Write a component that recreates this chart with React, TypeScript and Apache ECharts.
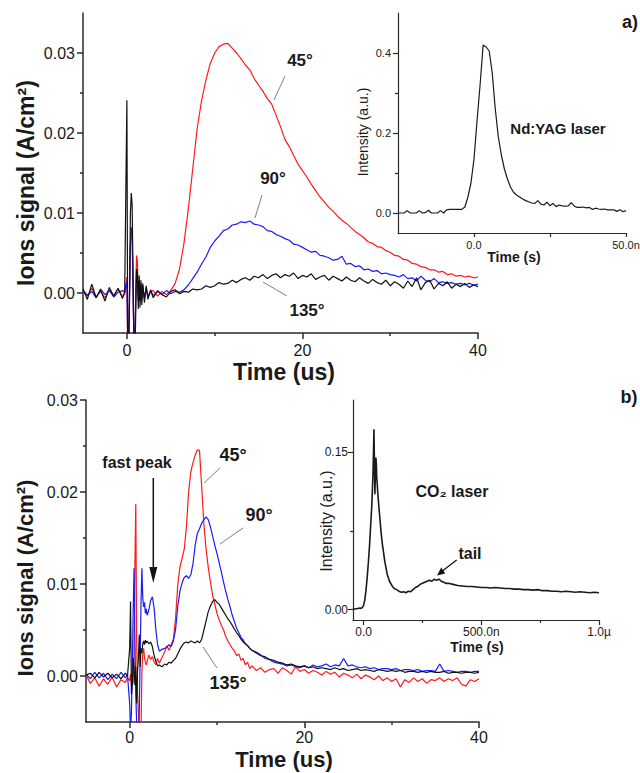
import React, { useEffect, useRef } from "react";
import * as echarts from "echarts";

const FONT = "'Liberation Sans', Arial, Helvetica, sans-serif";

// ---------------- Panel a (Nd:YAG) : time in us ----------------
const aTime = [
  -5, -4.5, -4, -3.5, -3, -2.5, -2, -1.5, -1, -0.5, -0.25,
  0, 0.1, 0.2, 0.3, 0.4, 0.5, 0.6, 0.7, 0.8, 0.9, 1.0, 1.1, 1.2, 1.3, 1.4, 1.5, 1.6, 1.7, 1.8, 2.0, 2.2, 2.4, 2.7,
  3, 3.5, 4, 4.5, 5, 5.5, 6, 6.5, 7, 7.5, 8, 8.5, 9, 9.5, 10, 10.5, 11, 11.5, 12, 12.5, 13, 13.5, 14, 14.5, 15, 15.5,
  16, 16.5, 17, 17.5, 18, 18.5, 19, 19.5, 20, 20.5, 21, 21.5, 22, 22.5, 23, 23.5, 24, 24.5, 25, 25.5, 26, 26.5, 27, 27.5,
  28, 28.5, 29, 29.5, 30, 30.5, 31, 31.5, 32, 32.5, 33, 33.5, 34, 34.5, 35, 35.5, 36, 36.5, 37, 37.5, 38, 38.5, 39, 39.5, 40,
];
const aRed45 = [
  0.0003, -0.0004, 0.0006, -0.0005, 0.0002, -0.0006, 0.0004, -0.0003, 0.0005, -0.0004, -0.0002,
  0.002, -0.008, -0.006, 0, 0.006, 0.0077, 0.007, 0.001, -0.006, -0.008, 0, 0.0047, 0.004, -0.001, 0.0016, -0.001, 0.0012, -0.0008, 0.001, -0.0006, 0.0006, -0.0004, 0.0002,
  0.0003, -0.0004, 0.0002, -0.0002, 0.0003, 0.0012, 0.003, 0.0062, 0.0105, 0.0155, 0.0205, 0.024, 0.0266, 0.0287, 0.03, 0.0308, 0.0311, 0.0312, 0.0306, 0.03, 0.0293, 0.0285, 0.0279, 0.0268, 0.026, 0.0252,
  0.0243, 0.0236, 0.0222, 0.0208, 0.0192, 0.0183, 0.0172, 0.0161, 0.0153, 0.0145, 0.0136, 0.0128, 0.012, 0.0114, 0.0107, 0.0102, 0.0096, 0.0091, 0.0087, 0.0082, 0.0077, 0.0073, 0.0069, 0.0064,
  0.0062, 0.0058, 0.0057, 0.0053, 0.0051, 0.0047, 0.0046, 0.0042, 0.0041, 0.0037, 0.0036, 0.0033, 0.0032, 0.0029, 0.0029, 0.0026, 0.0027, 0.0023, 0.0024, 0.0021, 0.0022, 0.002, 0.0021, 0.0019, 0.002,
];
const aBlue90 = [
  0.0004, -0.0003, 0.0002, -0.0006, 0.0005, -0.0002, 0.0003, -0.0005, 0.0001, 0.0003, 0.0001,
  0.0015, -0.007, -0.006, 0, 0.0065, 0.0082, 0.0075, 0.001, -0.006, -0.007, -0.001, 0.003, 0.002, -0.001, 0.0014, -0.001, 0.001, -0.0008, 0.0008, -0.0006, 0.0005, -0.0004, 0.0002,
  -0.0003, 0.0002, -0.0002, 0.0003, -0.0001, 0.0002, 0.0001, 0.0004, 0.001, 0.0018, 0.0026, 0.0036, 0.0045, 0.0057, 0.0065, 0.0071, 0.0078, 0.008, 0.0085, 0.0086, 0.0089, 0.0088, 0.009, 0.0086,
  0.0085, 0.0083, 0.0078, 0.0077, 0.0073, 0.0071, 0.0068, 0.0066, 0.0061, 0.006,
  0.0057, 0.0054, 0.0051, 0.0052, 0.0047, 0.0046, 0.0044, 0.0041, 0.0042, 0.0046,
  0.0036, 0.0037, 0.0033, 0.0034, 0.0029, 0.003, 0.0027, 0.0028, 0.0024, 0.0025,
  0.0023, 0.0022, 0.002, 0.0023, 0.0018, 0.0019, 0.0015, 0.0021, 0.0016, 0.0014,
  0.0018, 0.0013, 0.0014, 0.0012, 0.0013, 0.0011, 0.0012, 0.001, 0.0012, 0.001, 0.0011,
];
const aBlack135 = [
  0.0005, -0.0008, 0.0011, -0.0006, 0.0004, -0.001, 0.0007, -0.0004, 0.0006, -0.0007, 0.0002,
  0.0241, -0.009, -0.007, -0.001, 0.01, 0.0125, 0.011, 0.002, -0.007, -0.009, -0.003, 0.003, 0.0025, -0.002, 0.0022, -0.0018, 0.0016, -0.0015, 0.0012, -0.0012, 0.0009, -0.0008, 0.0004,
  -0.0006, 0.0003, -0.0002, -0.0005, 0.0002, 0.0004, -0.0001, 0.0002, 0.0001, 0.0005,
  0.0004, 0.0005, 0.0009, 0.0007, 0.0009, 0.0013, 0.0011, 0.0012, 0.0016, 0.0013,
  0.0017, 0.0019, 0.0016, 0.0021, 0.0019, 0.0023, 0.0018, 0.0022, 0.0024, 0.0019,
  0.0023, 0.0021, 0.0025, 0.0018, 0.0022, 0.002, 0.0024, 0.0017, 0.002, 0.0022,
  0.0016, 0.0021, 0.0018, 0.0015, 0.002, 0.0016, 0.0014, 0.0019, 0.0015, 0.0012,
  0.0017, 0.0013, 0.0011, 0.0016, 0.0009, 0.0014, 0.0011, 0.0006, 0.0015, 0.0008,
  0.0019, 0.0004, 0.0013, 0.0016, 0.0005, 0.0012, 0.0009, 0.0014, 0.0006, 0.0011,
  0.0008, 0.0012, 0.0007, 0.001, 0.0008,
];
// inset a : time in ns
const aInsetTime = [
  -25, -23, -22, -21, -19, -18, -17, -16, -15, -14, -12, -11, -10, -9, -8, -6, -4, -3, -2, -1,
  0, 1, 2, 3, 4, 5, 6, 7, 8, 9, 10, 11, 12, 13, 14, 15, 16, 17, 18, 19, 20, 21, 22, 23, 24, 25,
  26, 27, 28, 29, 30, 31, 32, 33, 34, 35, 36, 37, 38, 39, 40, 41, 42, 43, 44, 45, 46, 47, 48, 49, 50,
];
const aInsetIntensity = [
  0, 0, 0.006, 0, 0, 0.006, 0, 0.001, 0.007, 0, 0, 0.006, 0, 0.008, 0.009, 0.009, 0.009, 0.015, 0.04, 0.075,
  0.135, 0.23, 0.32, 0.42, 0.415, 0.405, 0.35, 0.26, 0.19, 0.145, 0.11, 0.085, 0.065, 0.052, 0.045, 0.04, 0.035, 0.031, 0.028, 0.025, 0.024, 0.031, 0.022, 0.02, 0.027, 0.018,
  0.024, 0.016, 0.02, 0.018, 0.017, 0.018, 0.026, 0.017, 0.014, 0.014, 0.015, 0.013, 0.014, 0.009, 0.012, 0.01, 0.009, 0.01, 0.008, 0.008, 0.008, 0.004, 0.008, 0.003, 0.006,
];

// ---------------- Panel b (CO2) : time in us ----------------
const bTime = [
  -5, -4.5, -4, -3.5, -3, -2.5, -2, -1.5, -1, -0.5, -0.25,
  0, 0.1, 0.2, 0.3, 0.4, 0.5, 0.6, 0.7, 0.8, 0.9, 1.0, 1.1, 1.2, 1.3, 1.4, 1.5, 1.6, 1.7, 1.8, 1.9, 2.0, 2.2, 2.4, 2.6, 2.8, 3.0, 3.2, 3.4, 3.7,
  4, 4.25, 4.5, 4.75, 5, 5.25, 5.5, 5.75, 6, 6.25, 6.5, 6.75, 7, 7.25, 7.5, 7.75, 8, 8.25, 8.5, 8.75, 9, 9.25, 9.5, 9.75,
  10, 10.25, 10.5, 10.75, 11, 11.25, 11.5, 11.75, 12, 12.25, 12.5, 12.75, 13, 13.25, 13.5, 13.75, 14,
  14.5, 15, 15.5, 16, 16.5, 17, 17.5, 18, 18.5, 19, 19.5, 20, 20.5, 21, 21.5, 22, 22.5, 23, 23.5, 24, 24.5, 25, 25.5, 26,
  26.5, 27, 27.5, 28, 28.5, 29, 29.5, 30, 30.5, 31, 31.5, 32, 32.5, 33, 33.5, 34, 34.5, 35, 35.5, 36, 36.5, 37, 37.5, 38, 38.5, 39, 39.5, 40,
];
const bRed45 = [
  0.0001, -0.0008, -0.0002, -0.0011, -0.0003, -0.0009, -0.0001, -0.0012, -0.0004, -0.0007, -0.0002,
  -0.0005, 0.0002, -0.001, 0.0005, -0.0008, 0.002, 0.012, 0.0187, 0.004, -0.002, -0.004, -0.006, -0.008, -0.006, 0.0005, 0.0025, 0.003, 0.002, 0.0015, 0.0012, 0.0016, 0.0023, 0.0018, 0.0021, 0.0015, 0.0012, 0.0019, 0.0014, 0.002,
  0.0026, 0.0033, 0.0028, 0.0034, 0.004, 0.0062, 0.0098, 0.0118, 0.0128, 0.0138, 0.0162, 0.02, 0.0222, 0.0232, 0.024, 0.0246, 0.0245, 0.0205, 0.0165, 0.0138, 0.0118, 0.0102, 0.0088, 0.0078,
  0.0068, 0.0061, 0.0055, 0.005, 0.0043, 0.0038, 0.0034, 0.003, 0.0027, 0.0022, 0.0024, 0.0017, 0.0019, 0.0012, 0.0015, 0.0008, 0.0011,
  0.0006, 0.0009, 0.0004, 0.0007, 0.0008, 0.0003, 0.0009, 0.0006, 0.0002, 0.001, 0.0005,
  0.0007, 0.0003, 0.0006, 0.0004, 0.0001, 0.0005, 0.0002, 0.0004, -0.0001, 0.0003,
  0.0001, -0.0002, 0.0002, -0.0003, 0.0001, -0.0001, -0.0004, 0, -0.0005, -0.0002,
  -0.0006, -0.0003, -0.0012, -0.0004, -0.0007, -0.0002, -0.0006, -0.0003, -0.0008, -0.0004,
  -0.0005, -0.0002, -0.0006, -0.0003, -0.0005, -0.0002, -0.0009, -0.0011, -0.0004, -0.0006,
  -0.0003,
];
const bBlue90 = [
  0.0002, -0.0003, 0.0004, -0.0002, 0.0003, -0.0004, 0.0002, -0.0003, 0.0004, -0.0002, 0.0001,
  -0.003, -0.006, -0.004, 0.001, 0.007, 0.0117, 0.004, -0.002, -0.005, -0.007, -0.008, -0.004, 0.002, 0.008, 0.0117, 0.0085, 0.0075, 0.008, 0.0068, 0.0073, 0.0066, 0.0072, 0.0082, 0.0086, 0.0074, 0.005, 0.0034, 0.0027, 0.0029,
  0.003, 0.0031, 0.0034, 0.0032, 0.0038, 0.005, 0.0075, 0.0092, 0.0101, 0.0107, 0.0109, 0.0106, 0.011, 0.0122, 0.0142, 0.0155, 0.016, 0.0166, 0.017, 0.0173, 0.017, 0.0162, 0.0152, 0.0142,
  0.0133, 0.0123, 0.0113, 0.0102, 0.0092, 0.0083, 0.0075, 0.0066, 0.0059, 0.0052, 0.0047, 0.0042, 0.0039, 0.0035, 0.0033, 0.003, 0.0028,
  0.0026, 0.0023, 0.0019, 0.0018, 0.0015, 0.0014, 0.0013, 0.0011, 0.0012, 0.001, 0.0009,
  0.0011, 0.0009, 0.0012, 0.001, 0.0011, 0.0013, 0.001, 0.0012, 0.0011, 0.0019,
  0.0011, 0.0012, 0.001, 0.0009, 0.001, 0.0008, 0.0009, 0.0007, 0.0008, 0.0008,
  0.0007, 0.0008, 0.0006, 0.0007, 0.0007, 0.0006, 0.0007, 0.0005, 0.0006, 0.0006,
  0.0005, 0.0013, 0.0005, 0.0006, 0.0005, 0.0004, 0.0005, 0.0005, 0.0004, 0.0005,
  0.0005,
];
const bBlack135 = [
  0.0001, 0.0003, -0.0002, 0.0004, -0.0001, 0.0003, -0.0002, 0.0002, -0.0003, 0.0003, 0,
  0.003, 0.0081, -0.002, -0.001, 0.002, 0.001, -0.001, 0.001, -0.003, 0.0005, 0.002, 0.0045, 0.001, 0.003, 0.0025, 0.0035, 0.0038, 0.0034, 0.0039, 0.0036, 0.0038, 0.0035, 0.0037, 0.0032, 0.0022, 0.0016, 0.0011, 0.0012, 0.001,
  0.0013, 0.0012, 0.0015, 0.0014, 0.0017, 0.0019, 0.0024, 0.0029, 0.0033, 0.0036, 0.0037, 0.0036, 0.0038, 0.0037, 0.0036, 0.0038, 0.0036, 0.004, 0.005, 0.006, 0.007, 0.0076, 0.0081, 0.0083,
  0.008, 0.0078, 0.0074, 0.007, 0.0066, 0.0062, 0.0059, 0.0055, 0.0051, 0.0047, 0.0044, 0.004, 0.0037, 0.0035, 0.0033, 0.003, 0.0028,
  0.0025, 0.0022, 0.0021, 0.0018, 0.0017, 0.0015, 0.0014, 0.0012, 0.0013, 0.0011, 0.001,
  0.0011, 0.0009, 0.001, 0.0008, 0.0009, 0.0008, 0.0007, 0.0009, 0.0007, 0.0008,
  0.0006, 0.0007, 0.0008, 0.0006, 0.0007, 0.0006, 0.0005, 0.0007, 0.0006, 0.0005,
  0.0006, 0.0005, 0.0006, 0.0004, 0.0005, 0.0005, 0.0004, 0.0005, 0.0004, 0.0005,
  0.0004, 0.0004, 0.0005, 0.0003, 0.0004, 0.0004, 0.0003, 0.0004, 0.0004, 0.0003,
  0.0004,
];
// inset b : time in ns
const bInsetTime = [
  -45, -35, -25, -15, -10, -5,
  0, 5, 10, 15, 20, 25, 30, 35,
  38, 40, 42, 44, 46, 48, 50, 52, 54, 56, 58, 60,
  65, 70, 75, 80, 85, 90, 95, 100,
  110, 120, 130, 140, 150, 160, 170, 180, 190, 200, 210, 220, 230, 240, 250, 260, 270, 280, 290, 300, 310, 320, 330, 340, 350, 360,
  380, 400,
  420, 440, 460, 480, 500, 520, 540, 560, 580, 600, 620, 640, 660, 680, 700, 720, 740, 760, 780, 800, 820, 840, 860, 880, 900, 920, 940, 960, 980, 1000,
];
const bInsetIntensity = [
  0.001, 0.0005, 0.001, 0.0015, 0.001, 0.002,
  0.004, 0.009, 0.018, 0.03, 0.044, 0.06, 0.08, 0.1,
  0.118, 0.13, 0.15, 0.172, 0.14, 0.11, 0.13, 0.145, 0.14, 0.125, 0.12, 0.112,
  0.098, 0.085, 0.072, 0.062, 0.054, 0.046, 0.04, 0.034,
  0.027, 0.023, 0.02, 0.019, 0.0175, 0.0165, 0.017, 0.016, 0.0175, 0.017, 0.019, 0.021, 0.022, 0.024, 0.025, 0.026, 0.027, 0.028, 0.027, 0.029, 0.028, 0.029, 0.027, 0.026, 0.025, 0.025,
  0.024, 0.023,
  0.0225, 0.022, 0.022, 0.0215, 0.021, 0.021, 0.0205, 0.021, 0.0205, 0.02, 0.02, 0.0195, 0.0195, 0.019, 0.019, 0.0185, 0.019, 0.018, 0.018, 0.0175, 0.0175, 0.017, 0.0175, 0.017, 0.0165, 0.017, 0.0165, 0.016, 0.0165, 0.016,
];

// ---------------- ticks ----------------
const mainXTicks = [0, 20, 40];
const mainXMinor = [10, 30];
const aYTicks = [0, 0.01, 0.02, 0.03];
const bYTicks = [0, 0.01, 0.02, 0.03];
const mainYMinor = [0.005, 0.015, 0.025];
const aInsetXTicks = [0, 25, 50];
const aInsetXLabels = [0, 50];
const aInsetYTicks = [0, 0.2, 0.4];
const aInsetYMinor = [0.1, 0.3];
const bInsetXTicks = [0, 500, 1000];
const bInsetXMinor = [250, 750];
const bInsetYTicks = [0, 0.15];
const bInsetYMinor = [0.075];

const AX = "#2b2b2b";
const TXT = "#1a1a1a";

const pairs = (t: number[], v: number[]) => t.map((x, i) => [x, v[i]]);

function axis(o: any) {
  const {
    gridIndex, min, max, position, ticks, labels, tickLen, lineW, fontSize, margin, fmt, showLine,
  } = o;
  return {
    type: "value",
    gridIndex,
    min,
    max,
    position,
    axisLine: { show: showLine !== false, onZero: false, lineStyle: { color: AX, width: lineW } },
    axisTick: { show: true, customValues: ticks, length: tickLen, inside: false, lineStyle: { color: AX, width: lineW } },
    axisLabel: labels
      ? { show: true, customValues: labels, margin, fontSize, color: TXT, fontFamily: FONT, formatter: fmt }
      : { show: false },
    splitLine: { show: false },
    minorTick: { show: false },
    axisPointer: { show: false },
  };
}

const line = (x1: number, y1: number, x2: number, y2: number, color = "#808080", w = 1) => ({
  type: "line",
  silent: true,
  shape: { x1, y1, x2, y2 },
  style: { stroke: color, lineWidth: w },
});

const txt = (text: string, x: number, y: number, size: number, bold = true, rotation = 0) => ({
  type: "text",
  x,
  y,
  rotation,
  silent: true,
  style: {
    text,
    font: `${bold ? "bold " : ""}${size}px ${FONT}`,
    fill: TXT,
    align: "center",
    verticalAlign: "middle",
    textAlign: "center",
    textVerticalAlign: "middle",
  },
});

const series = (xi: number, yi: number, t: number[], v: number[], color: string, w: number) => ({
  type: "line",
  xAxisIndex: xi,
  yAxisIndex: yi,
  data: pairs(t, v),
  showSymbol: false,
  symbol: "none",
  clip: true,
  silent: true,
  lineStyle: { color, width: w },
  itemStyle: { color },
});

const option: any = {
  animation: false,
  backgroundColor: "#ffffff",
  grid: [
    { left: 83, top: 13, width: 395, height: 320, outerBoundsMode: "none" },
    { left: 398, top: 13, width: 228, height: 220, outerBoundsMode: "none" },
    { left: 86, top: 400, width: 393, height: 322, outerBoundsMode: "none" },
    { left: 353, top: 400, width: 246, height: 220, outerBoundsMode: "none" },
  ],
  xAxis: [
    axis({ gridIndex: 0, min: -5, max: 40, position: "bottom", ticks: mainXTicks, labels: mainXTicks, tickLen: 6, lineW: 1.5, fontSize: 16, margin: 9, fmt: (v: number) => String(v) }),
    axis({ gridIndex: 0, min: -5, max: 40, position: "bottom", ticks: mainXMinor, tickLen: 3, lineW: 1.5, showLine: false }),
    axis({ gridIndex: 1, min: -25, max: 50, position: "bottom", ticks: aInsetXTicks, labels: aInsetXLabels, tickLen: 4, lineW: 1.2, fontSize: 11, margin: 6, fmt: (v: number) => (v === 0 ? "0.0" : "50.0n") }),
    axis({ gridIndex: 2, min: -5, max: 40, position: "bottom", ticks: mainXTicks, labels: mainXTicks, tickLen: 6, lineW: 1.5, fontSize: 16, margin: 7, fmt: (v: number) => String(v) }),
    axis({ gridIndex: 2, min: -5, max: 40, position: "bottom", ticks: mainXMinor, tickLen: 3, lineW: 1.5, showLine: false }),
    axis({ gridIndex: 3, min: -45, max: 1000, position: "bottom", ticks: bInsetXTicks, labels: bInsetXTicks, tickLen: 5, lineW: 1.2, fontSize: 12, margin: 6, fmt: (v: number) => (v === 0 ? "0.0" : v === 500 ? "500.0n" : "1.0µ") }),
    axis({ gridIndex: 3, min: -45, max: 1000, position: "bottom", ticks: bInsetXMinor, tickLen: 3, lineW: 1.2, showLine: false }),
  ],
  yAxis: [
    axis({ gridIndex: 0, min: -0.005, max: 0.035, position: "left", ticks: aYTicks, labels: aYTicks, tickLen: 6, lineW: 1.5, fontSize: 16, margin: 8, fmt: (v: number) => v.toFixed(2) }),
    axis({ gridIndex: 0, min: -0.005, max: 0.035, position: "left", ticks: mainYMinor, tickLen: 3, lineW: 1.5, showLine: false }),
    axis({ gridIndex: 1, min: -0.05, max: 0.5, position: "left", ticks: aInsetYTicks, labels: aInsetYTicks, tickLen: 5, lineW: 1.2, fontSize: 11, margin: 7, fmt: (v: number) => v.toFixed(1) }),
    axis({ gridIndex: 1, min: -0.05, max: 0.5, position: "left", ticks: aInsetYMinor, tickLen: 3, lineW: 1.2, showLine: false }),
    axis({ gridIndex: 2, min: -0.005, max: 0.03, position: "left", ticks: bYTicks, labels: bYTicks, tickLen: 6, lineW: 1.5, fontSize: 16, margin: 8, fmt: (v: number) => v.toFixed(2) }),
    axis({ gridIndex: 2, min: -0.005, max: 0.03, position: "left", ticks: mainYMinor, tickLen: 3, lineW: 1.5, showLine: false }),
    axis({ gridIndex: 3, min: -0.01, max: 0.2, position: "left", ticks: bInsetYTicks, labels: bInsetYTicks, tickLen: 5, lineW: 1.2, fontSize: 12, margin: 5, fmt: (v: number) => v.toFixed(2) }),
    axis({ gridIndex: 3, min: -0.01, max: 0.2, position: "left", ticks: bInsetYMinor, tickLen: 3, lineW: 1.2, showLine: false }),
  ],
  series: [
    series(0, 0, aTime, aRed45, "#ff1a1a", 1.2),
    series(0, 0, aTime, aBlue90, "#1a1aff", 1.2),
    series(0, 0, aTime, aBlack135, "#111111", 1.2),
    series(2, 2, aInsetTime, aInsetIntensity, "#1a1a1a", 1.2),
    series(3, 4, bTime, bRed45, "#ff1a1a", 1.2),
    series(3, 4, bTime, bBlue90, "#1a1aff", 1.2),
    series(3, 4, bTime, bBlack135, "#111111", 1.2),
    series(5, 6, bInsetTime, bInsetIntensity, "#1a1a1a", 1.6),
  ],
  graphic: [
    // panel a
    txt("Ions signal (A/cm²)", 26, 183, 23, true, Math.PI / 2),
    txt("Time (us)", 284, 372, 23),
    txt("45°", 300, 60, 17),
    line(285, 76, 274, 100),
    txt("90°", 273, 178, 17),
    line(262, 195, 255, 218),
    txt("135°", 307, 310, 17),
    line(287, 296, 263, 282),
    txt("Intensity (a.u.)", 363, 132, 14, false, Math.PI / 2),
    txt("Time (s)", 514, 257, 14),
    txt("Nd:YAG laser", 558, 128, 15),
    txt("a)", 630, 22, 18),
    // panel b
    txt("Ions signal (A/cm²)", 25, 578, 22, true, Math.PI / 2),
    txt("Time (us)", 284, 759, 22),
    txt("fast peak", 137, 462, 16),
    line(153.3, 478, 153.3, 570, "#111111", 1.5),
    { type: "polygon", silent: true, shape: { points: [[149.3, 567], [157.3, 567], [153.3, 583]] }, style: { fill: "#111111" } },
    txt("45°", 233, 455, 18),
    line(220, 468, 204, 483),
    txt("90°", 259, 515, 18),
    line(243, 528, 220, 544),
    txt("135°", 228, 683, 18),
    line(217, 668, 203, 647),
    txt("Intensity (a.u.)", 326, 521, 16, false, Math.PI / 2),
    txt("Time (s)", 477, 647, 14),
    txt("CO₂ laser", 452, 491, 16),
    txt("tail", 470, 553, 16),
    line(456.7, 560, 441, 572, "#111111", 1.3),
    { type: "polygon", silent: true, shape: { points: [[437, 575.5], [445.2, 573.4], [441.2, 567.6]] }, style: { fill: "#111111" } },
    txt("b)", 629, 397, 18),
  ],
};

export default function App() {
  const ref = useRef<HTMLDivElement>(null);
  useEffect(() => {
    if (!ref.current) return;
    const chart = echarts.init(ref.current, undefined, { renderer: "svg" });
    chart.setOption(option);
    return () => chart.dispose();
  }, []);
  return (
    <div
      ref={ref}
      style={{ position: "absolute", left: 0, top: 0, width: 640, height: 773, background: "#fff" }}
    />
  );
}
